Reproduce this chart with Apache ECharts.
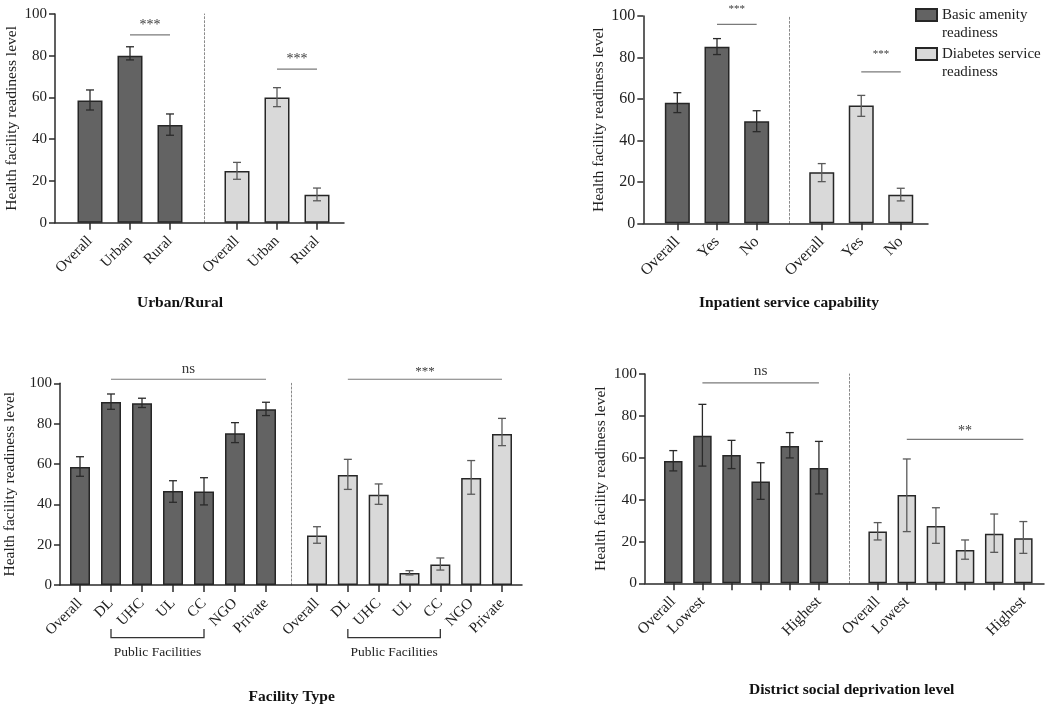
<!DOCTYPE html>
<html><head><meta charset="utf-8">
<script src="https://cdn.jsdelivr.net/npm/echarts@6/dist/echarts.min.js"></script>
<style>html,body{margin:0;padding:0;background:#fff}#chart{width:1050px;height:711px}</style>
</head><body><div id="chart"></div>
<script>
// ---------- DATA ----------
const seriesNames = ['Basic amenity readiness', 'Diabetes service readiness'];
const legendLabels = ['Basic amenity\nreadiness', 'Diabetes service\nreadiness'];
const yTitle = 'Health facility readiness level';

// Panel 1: Urban/Rural
const urbanTitle = 'Urban/Rural';
const urbanCats = ['Overall', 'Urban', 'Rural'];
const urbanBasic = [58.5, 80.0, 46.8];
const urbanBasicLow = [54.0, 78.0, 41.9];
const urbanBasicHigh = [63.6, 84.3, 52.1];
const urbanDiab = [24.8, 60.0, 13.4];
const urbanDiabLow = [20.8, 55.6, 10.5];
const urbanDiabHigh = [28.9, 64.7, 16.6];
const urbanSigBasic = ['***', 1, 2, 90];
const urbanSigDiab = ['***', 1, 2, 73.6];

// Panel 2: Inpatient service capability
const inpTitle = 'Inpatient service capability';
const inpCats = ['Overall', 'Yes', 'No'];
const inpBasic = [58.2, 85.2, 49.2];
const inpBasicLow = [53.4, 81.4, 44.2];
const inpBasicHigh = [63.0, 89.1, 54.3];
const inpDiab = [24.6, 56.8, 13.8];
const inpDiabLow = [20.1, 51.6, 10.8];
const inpDiabHigh = [28.8, 61.7, 16.9];
const inpSigBasic = ['***', 1, 2, 96];
const inpSigDiab = ['***', 1, 2, 73];

// Panel 3: Facility Type
const facTitle = 'Facility Type';
const facCats = ['Overall', 'DL', 'UHC', 'UL', 'CC', 'NGO', 'Private'];
const facBasic = [58.5, 90.7, 90.1, 46.6, 46.3, 75.2, 87.1];
const facBasicLow = [53.9, 87.1, 88.0, 41.0, 39.7, 70.6, 84.0];
const facBasicHigh = [63.6, 94.7, 92.6, 51.7, 53.2, 80.5, 90.6];
const facDiab = [24.6, 54.5, 44.8, 6.0, 10.2, 53.0, 74.9];
const facDiabLow = [20.7, 47.4, 40.0, 5.0, 7.4, 45.0, 69.1];
const facDiabHigh = [28.9, 62.3, 50.1, 7.1, 13.4, 61.7, 82.6];
const facSigBasic = ['ns', 1, 6, 102];
const facSigDiab = ['***', 1, 6, 102];
const facBracket = ['Public Facilities', 1, 4];

// Panel 4: District social deprivation level
const depTitle = 'District social deprivation level';
const depCats = ['Overall', 'Lowest', 'Q2', 'Q3', 'Q4', 'Highest'];
const depTickLabels = ['Overall', 'Lowest', '', '', '', 'Highest'];
const depBasic = [58.4, 70.5, 61.3, 48.6, 65.6, 55.1];
const depBasicLow = [53.7, 56.0, 54.8, 40.1, 59.9, 42.7];
const depBasicHigh = [63.4, 85.5, 68.3, 57.6, 72.0, 67.8];
const depDiab = [24.7, 42.2, 27.4, 15.9, 23.7, 21.5];
const depDiabLow = [20.7, 24.7, 19.1, 11.5, 14.8, 14.3];
const depDiabHigh = [29.0, 59.4, 36.1, 20.7, 33.1, 29.5];
const depSigBasic = ['ns', 1, 5, 95.8];
const depSigDiab = ['**', 1, 5, 68.8];

// ---------- STYLE / LAYOUT ----------
const FONT = '"Liberation Serif", "Times New Roman", serif';
const DARK = '#636363', LIGHT = '#d9d9d9', EDGE = '#262626', AXIS = '#2b2b2b';

const panels = [
  { title: urbanTitle, cats: urbanCats, labels: urbanCats,
    basic: [urbanBasic, urbanBasicLow, urbanBasicHigh], diab: [urbanDiab, urbanDiabLow, urbanDiabHigh],
    sig: [urbanSigBasic, urbanSigDiab], bracket: null,
    L: { axisX: 55, top: 14, bottom: 222.7, right: 344, lh: [70, 190], rh: [217, 337], divOff: 13,
         barW: 25, font: 15, nameGap: 35, tx: 180, ty: 303, sigOff: [10, 10], sigFont: [14, 14] } },
  { title: inpTitle, cats: inpCats, labels: inpCats,
    basic: [inpBasic, inpBasicLow, inpBasicHigh], diab: [inpDiab, inpDiabLow, inpDiabHigh],
    sig: [inpSigBasic, inpSigDiab], bracket: null,
    L: { axisX: 643.3, top: 16, bottom: 223.3, right: 928, lh: [657.5, 776.5], rh: [802, 920.5], divOff: 13,
         barW: 25, font: 16, nameGap: 35, tx: 789, ty: 303, sigOff: [15, 18], sigFont: [11, 11] } },
  { title: facTitle, cats: facCats, labels: facCats,
    basic: [facBasic, facBasicLow, facBasicHigh], diab: [facDiab, facDiabLow, facDiabHigh],
    sig: [facSigBasic, facSigDiab], bracket: facBracket,
    L: { axisX: 60, top: 383.3, bottom: 585, right: 522, lh: [64.5, 281.5], rh: [301.6, 517.4], divOff: 9.9,
         barW: 20, font: 15, nameGap: 42, tx: 291.7, ty: 697.3, sigOff: [10, 8], sigFont: [15, 13] } },
  { title: depTitle, cats: depCats, labels: depTickLabels,
    basic: [depBasic, depBasicLow, depBasicHigh], diab: [depDiab, depDiabLow, depDiabHigh],
    sig: [depSigBasic, depSigDiab], bracket: null,
    L: { axisX: 645, top: 374, bottom: 583.3, right: 1044, lh: [658.7, 833.5], rh: [863.1, 1037.9], divOff: 14.1,
         barW: 18.5, font: 15.5, nameGap: 36, tx: 851.7, ty: 690, sigOff: [12, 8], sigFont: [15.5, 14] } }
];

function errRender(color, cap) {
  return function (params, api) {
    const i = api.value(0);
    const lo = api.coord([i, api.value(1)]);
    const hi = api.coord([i, api.value(2)]);
    const x = lo[0];
    const st = { stroke: color, lineWidth: 1.3 };
    return { type: 'group', children: [
      { type: 'line', shape: { x1: x, y1: lo[1], x2: x, y2: hi[1] }, style: st },
      { type: 'line', shape: { x1: x - cap, y1: lo[1], x2: x + cap, y2: lo[1] }, style: st },
      { type: 'line', shape: { x1: x - cap, y1: hi[1], x2: x + cap, y2: hi[1] }, style: st }
    ] };
  };
}

function sigRender(text, offset, fontSize) {
  return function (params, api) {
    const a = api.coord([api.value(0), api.value(2)]);
    const b = api.coord([api.value(1), api.value(2)]);
    return { type: 'group', children: [
      { type: 'line', shape: { x1: a[0], y1: a[1], x2: b[0], y2: b[1] }, style: { stroke: '#7a7a7a', lineWidth: 1.2 } },
      { type: 'text', x: (a[0] + b[0]) / 2, y: a[1] - offset,
        style: { text: text, fill: '#3a3a3a', fontSize: fontSize, fontFamily: FONT,
                 align: 'center', verticalAlign: 'middle', textAlign: 'center', textVerticalAlign: 'middle' } }
    ] };
  };
}

function bracketRender(text, drop, up, fontSize) {
  return function (params, api) {
    const a = api.coord([api.value(0), 0]);
    const b = api.coord([api.value(1), 0]);
    const y = a[1] + drop;
    return { type: 'group', children: [
      { type: 'polyline', shape: { points: [[a[0], y - up], [a[0], y], [b[0], y], [b[0], y - up]] },
        style: { stroke: '#333', lineWidth: 1.3, fill: null } },
      { type: 'text', x: (a[0] + b[0]) / 2, y: y + 15,
        style: { text: text, fill: '#222', fontSize: fontSize, fontFamily: FONT,
                 align: 'center', verticalAlign: 'middle', textAlign: 'center', textVerticalAlign: 'middle' } }
    ] };
  };
}

const grid = [], xAxis = [], yAxis = [], series = [], graphic = [];

panels.forEach(function (p, k) {
  const L = p.L;
  const h = L.bottom - L.top;
  const f = 3 * k;
  grid.push({ left: L.axisX, top: L.top, width: L.right - L.axisX, height: h });
  grid.push({ left: L.lh[0], top: L.top, width: L.lh[1] - L.lh[0], height: h });
  grid.push({ left: L.rh[0], top: L.top, width: L.rh[1] - L.rh[0], height: h });

  xAxis.push({ gridIndex: f, type: 'value', min: 0, max: 1,
    axisLine: { show: true, onZero: false, lineStyle: { color: AXIS, width: 1.5 } },
    axisTick: { show: false }, axisLabel: { show: false }, splitLine: { show: false } });
  yAxis.push({ gridIndex: f, type: 'value', min: 0, max: 100, interval: 20,
    name: yTitle, nameLocation: 'middle', nameGap: L.nameGap,
    nameTextStyle: { fontFamily: FONT, fontSize: 15.5, color: '#222' },
    axisLine: { show: true, lineStyle: { color: AXIS, width: 1.5 } },
    axisTick: { show: true, length: 6, lineStyle: { color: AXIS, width: 1.5 } },
    axisLabel: { fontFamily: FONT, fontSize: L.font, color: '#222', margin: 8 },
    splitLine: { show: false } });

  [0, 1].forEach(function (half) {
    const gi = f + 1 + half;
    xAxis.push({ gridIndex: gi, type: 'category', data: p.cats,
      axisLine: { show: false },
      axisTick: { show: true, alignWithLabel: true, length: 7, lineStyle: { color: AXIS, width: 1.5 } },
      axisLabel: { rotate: 45, margin: 16, fontFamily: FONT, fontSize: L.font, color: '#222', interval: 0,
        formatter: function (v, idx) { return p.labels[idx]; } },
      splitLine: { show: false } });
    yAxis.push({ gridIndex: gi, type: 'value', min: 0, max: 100, show: half === 1,
      offset: half === 1 ? L.divOff : 0,
      axisLine: { show: half === 1, lineStyle: { color: '#8a8a8a', width: 1, type: [2, 2] } },
      axisTick: { show: false }, axisLabel: { show: false }, splitLine: { show: false } });

    const d = half === 0 ? p.basic : p.diab;
    series.push({ type: 'bar', name: seriesNames[half], xAxisIndex: gi, yAxisIndex: gi,
      barWidth: L.barW, data: d[0],
      itemStyle: { color: half === 0 ? DARK : LIGHT, borderColor: EDGE, borderWidth: 1.5 } });
    series.push({ type: 'custom', name: 'ci' + k + half, xAxisIndex: gi, yAxisIndex: gi, z: 4,
      renderItem: errRender(half === 0 ? '#2a2a2a' : '#5a5a5a', 4),
      encode: { x: 0, y: [1, 2] },
      data: p.cats.map(function (c, i) { return [i, d[1][i], d[2][i]]; }) });
    const s = p.sig[half];
    series.push({ type: 'custom', name: 'sig' + k + half, xAxisIndex: gi, yAxisIndex: gi, z: 4, clip: false,
      renderItem: sigRender(s[0], L.sigOff[half], L.sigFont[half]),
      encode: { x: [0, 1], y: 2 },
      data: [[s[1], s[2], s[3]]] });
    if (p.bracket) {
      const b = p.bracket;
      series.push({ type: 'custom', name: 'br' + k + half, xAxisIndex: gi, yAxisIndex: gi, z: 4, clip: false,
        renderItem: bracketRender(b[0], 52.7, 8.7, 13.5),
        encode: { x: [0, 1] },
        data: [[b[1], b[2]]] });
    }
  });

  graphic.push({ type: 'text', x: L.tx, y: L.ty,
    style: { text: p.title, fontFamily: FONT, fontSize: 15.5, fontWeight: 'bold', fill: '#111',
             align: 'center', verticalAlign: 'middle', textAlign: 'center', textVerticalAlign: 'middle' } });
});

const chart = echarts.init(document.getElementById('chart'), null, { renderer: 'canvas' });
chart.setOption({
  backgroundColor: '#ffffff',
  animation: false,
  textStyle: { fontFamily: FONT },
  legend: {
    data: seriesNames, orient: 'vertical', left: 915, top: -12, padding: 0,
    icon: 'rect', itemWidth: 21, itemHeight: 12, itemGap: -15,
    // a leading blank line keeps the first text line level with the swatch
    formatter: function (n) { return '\n' + legendLabels[seriesNames.indexOf(n)]; },
    textStyle: { fontFamily: FONT, fontSize: 15, color: '#222', lineHeight: 18 }
  },
  grid: grid, xAxis: xAxis, yAxis: yAxis, series: series, graphic: graphic
});
</script></body></html>
